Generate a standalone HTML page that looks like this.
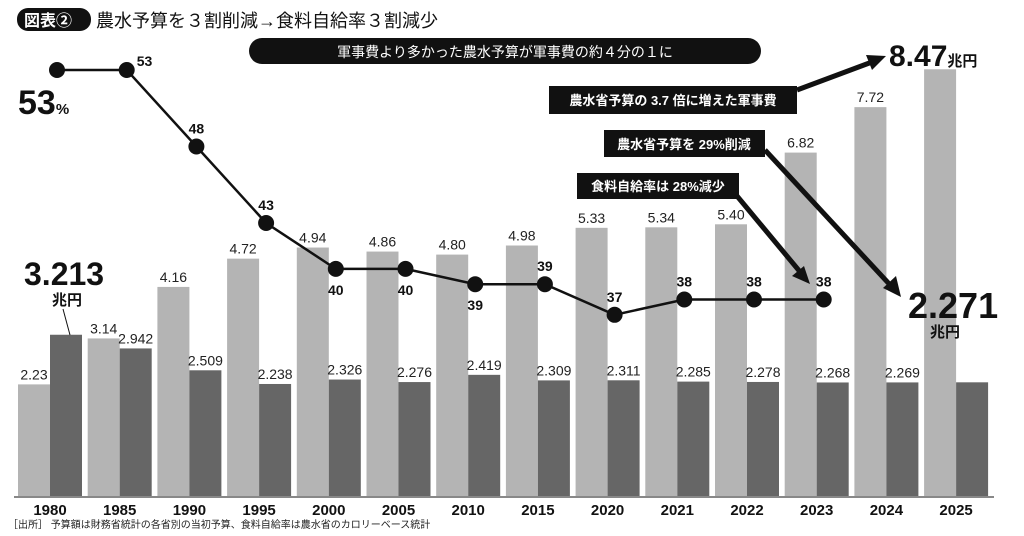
<!DOCTYPE html>
<html><head><meta charset="utf-8"><style>
body{margin:0;background:#fff;width:1024px;height:536px;overflow:hidden}
svg{display:block;font-family:"Liberation Sans","Noto Sans CJK JP",sans-serif}
</style></head><body>
<svg id="c" width="1024" height="536" viewBox="0 0 1024 536">
<g>
<rect x="17" y="8" width="74" height="23" rx="11" fill="#111"/>
<text x="24" y="26" font-size="16" font-weight="bold" fill="#fff">図表②</text>
<text x="96" y="27" font-size="18" fill="#111">農水予算を３割削減→食料自給率３割減少</text>
</g>
<g id="bars"></g>
<line x1="14" y1="497" x2="994" y2="497" stroke="#888" stroke-width="2"/>
<g id="line"></g>
<g>
<rect x="249" y="38" width="512" height="26" rx="13" fill="#111"/>
<text x="505" y="57" font-size="14" fill="#fff" text-anchor="middle">軍事費より多かった農水予算が軍事費の約４分の１に</text>
<rect x="549" y="86" width="248" height="28" fill="#111"/>
<text x="673" y="105" font-size="13" fill="#fff" text-anchor="middle" font-weight="bold">農水省予算の 3.7 倍に増えた軍事費</text>
<rect x="604" y="130" width="161" height="27" fill="#111"/>
<text x="684" y="149" font-size="13" fill="#fff" text-anchor="middle" font-weight="bold">農水省予算を 29%削減</text>
<rect x="577" y="173" width="162" height="26" fill="#111"/>
<text x="658" y="191" font-size="13" fill="#fff" text-anchor="middle" font-weight="bold">食料自給率は 28%減少</text>
<g stroke="#111" stroke-width="5" fill="none">
<line x1="797" y1="90" x2="872" y2="62"/>
<line x1="765" y1="150" x2="892" y2="287"/>
<line x1="737" y1="196" x2="801" y2="273"/>
</g>
<polygon points="886,56 866,55 872,70" fill="#111"/>
<polygon points="901,297 883,288 896,276" fill="#111"/>
<polygon points="810,284 792,276 804,266" fill="#111"/>
<text x="889" y="66" font-size="30" font-weight="bold" fill="#111">8.47<tspan font-size="15">兆円</tspan></text>
<text x="908" y="318" font-size="36" font-weight="bold" fill="#111">2.271</text>
<text x="930" y="337" font-size="15" font-weight="bold" fill="#111">兆円</text>
<text x="24" y="285" font-size="32" font-weight="bold" fill="#111">3.213</text>
<text x="52" y="305" font-size="15" font-weight="bold" fill="#111">兆円</text>
<line x1="63" y1="309" x2="70" y2="335" stroke="#111" stroke-width="1"/>
<text x="18" y="114" font-size="34" font-weight="bold" fill="#111">53<tspan font-size="15">%</tspan></text>
</g>
<text x="8" y="528" font-size="10" fill="#222">［出所］ 予算額は財務省統計の各省別の当初予算、食料自給率は農水省のカロリーベース統計</text>
</svg>
<script>
const categories=["1980","1985","1990","1995","2000","2005","2010","2015","2020","2021","2022","2023","2024","2025"];
const militaryBudget=[2.23,3.14,4.16,4.72,4.94,4.86,4.80,4.98,5.33,5.34,5.40,6.82,7.72,8.47];
const agriBudget=[3.213,2.942,2.509,2.238,2.326,2.276,2.419,2.309,2.311,2.285,2.278,2.268,2.269,2.271];
const militaryLabels=["2.23","3.14","4.16","4.72","4.94","4.86","4.80","4.98","5.33","5.34","5.40","6.82","7.72",""];
const agriLabels=["","2.942","2.509","2.238","2.326","2.276","2.419","2.309","2.311","2.285","2.278","2.268","2.269",""];
const selfSufficiency=[53,53,48,43,40,40,39,39,37,38,38,38];
const rateLabelPos=["none","right","above","above","below","below","below","above","above","above","above","above"];
const NS="http://www.w3.org/2000/svg";
const x0=18,pitch=69.7,bw=32,base=497,ppu=50.5;
const xs=i=>x0+pitch*i;
const yv=v=>base-v*ppu;
const yr=v=>70+(53-v)*15.3;
function mk(t,a,p){const e=document.createElementNS(NS,t);for(const k in a)e.setAttribute(k,a[k]);p.appendChild(e);return e;}
const gb=document.getElementById('bars');
categories.forEach((c,i)=>{
 const x=xs(i);
 let r=mk('rect',{x:x,y:yv(militaryBudget[i]),width:bw,height:militaryBudget[i]*ppu,fill:'#b4b4b4'},gb);
 
 
 r=mk('rect',{x:x+bw,y:yv(agriBudget[i]),width:bw,height:agriBudget[i]*ppu,fill:'#666'},gb);
 
 
 if(militaryLabels[i]){let t=mk('text',{x:x+bw/2,y:yv(militaryBudget[i])-5,'font-size':14,'text-anchor':'middle',fill:'#222'},gb);t.textContent=militaryLabels[i];
 
 }
 if(agriLabels[i]){let t=mk('text',{x:x+bw+bw/2,y:yv(agriBudget[i])-5,'font-size':14,'text-anchor':'middle',fill:'#222'},gb);t.textContent=agriLabels[i];
 
 }
 let t=mk('text',{x:x+bw,y:515,'font-size':15,'font-weight':'bold','text-anchor':'middle',fill:'#111'},gb);t.textContent=c;
 
 
});
const gl=document.getElementById('line');
const pts=selfSufficiency.map((v,i)=>[xs(i)+bw+7,yr(v)]);
const pl=mk('polyline',{points:pts.map(p=>p.join(',')).join(' '),fill:'none',stroke:'#111','stroke-width':2.5},gl);


pts.forEach((p,i)=>{
 const d=mk('circle',{cx:p[0],cy:p[1],r:8,fill:'#111'},gl);
 
 
 const pos=rateLabelPos[i];if(pos==='none')return;
 let lx=p[0],ly=p[1]-13,anc='middle';
 if(pos==='right'){lx=p[0]+10;ly=p[1]-4;anc='start';}
 if(pos==='below'){ly=p[1]+26;}
 const t=mk('text',{x:lx,y:ly,'font-size':14,'font-weight':'bold','text-anchor':anc,fill:'#111'},gl);
 t.textContent=String(selfSufficiency[i]);
 
 
});
</script>
</body></html>
